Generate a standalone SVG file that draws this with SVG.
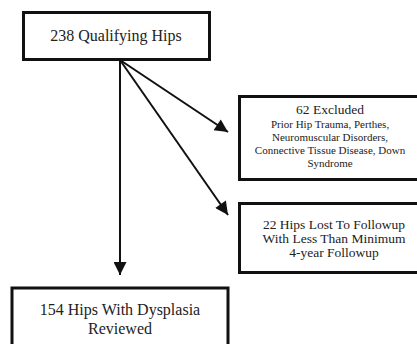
<svg xmlns="http://www.w3.org/2000/svg" width="417" height="344" viewBox="0 0 417 344">
<defs>
<marker id="ah" viewBox="0 0 10 10" refX="10" refY="5" markerWidth="7" markerHeight="6.5" markerUnits="strokeWidth" orient="auto">
<path d="M0,0 L10,5 L0,10 Z" fill="#111"/>
</marker>
<style>
.box{fill:#fff;stroke:#111;stroke-width:3}
.t{font-family:"Liberation Serif","DejaVu Serif",serif;fill:#222;text-anchor:middle}
.c{stroke:#111;stroke-width:2;fill:none;marker-end:url(#ah)}
</style>
</defs>
<rect width="417" height="344" fill="#fff"/>
<g id="connectors">
<line class="c" x1="120" y1="60" x2="120" y2="275"/>
<line class="c" x1="120" y1="60" x2="228" y2="132"/>
<line class="c" x1="120" y1="60" x2="228" y2="215"/>
</g>
<g id="n1">
<rect class="box" x="23.5" y="12.5" width="186" height="47"/>
<text class="t" x="116" y="41" font-size="16">238 Qualifying Hips</text>
</g>
<g id="n2">
<rect class="box" x="239.5" y="96.5" width="190" height="83"/>
<text class="t" x="330" y="114" font-size="13.5">62 Excluded</text>
<text class="t" x="330" y="128" font-size="11">Prior Hip Trauma, Perthes,</text>
<text class="t" x="330" y="141" font-size="11">Neuromuscular Disorders,</text>
<text class="t" x="330" y="154" font-size="11">Connective Tissue Disease, Down</text>
<text class="t" x="330" y="167" font-size="11">Syndrome</text>
</g>
<g id="n3">
<rect class="box" x="239.5" y="203.5" width="190" height="69"/>
<text class="t" x="334" y="229" font-size="13.5">22 Hips Lost To Followup</text>
<text class="t" x="334" y="243" font-size="13.5">With Less Than Minimum</text>
<text class="t" x="334" y="257" font-size="13.5">4-year Followup</text>
</g>
<g id="n4">
<rect class="box" x="12" y="288" width="216" height="70"/>
<text class="t" x="120" y="315" font-size="16">154 Hips With Dysplasia</text>
<text class="t" x="120" y="334" font-size="16">Reviewed</text>
</g>
</svg>
